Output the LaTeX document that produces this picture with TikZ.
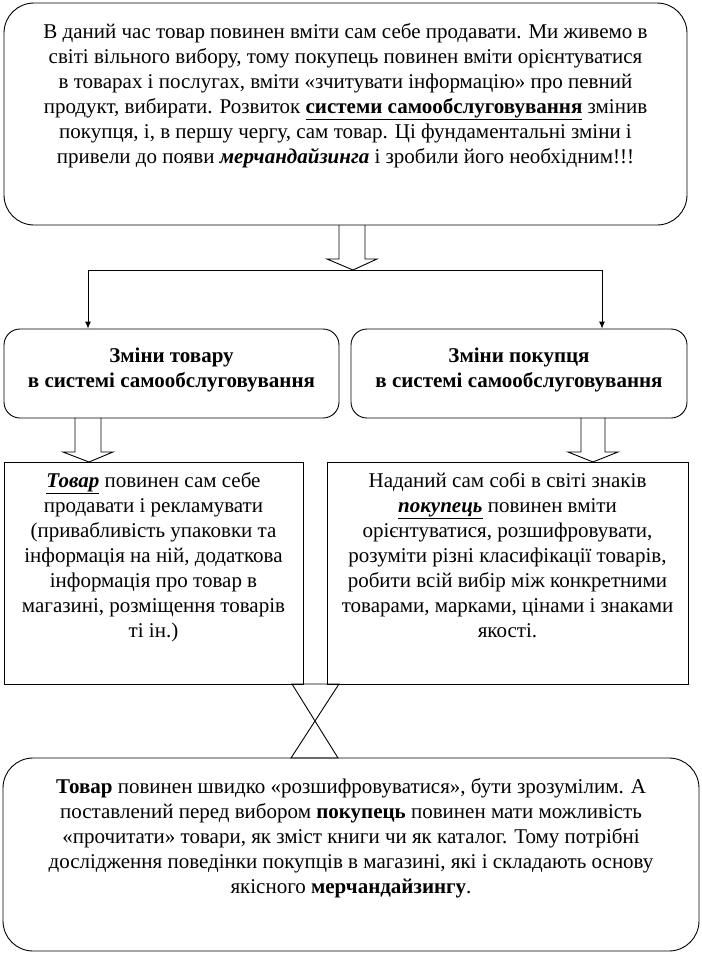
\documentclass[tikz,border=0pt]{standalone}
\usepackage{fontspec}
\setmainfont{LiberationSerif}[Extension=.ttf, UprightFont=*-Regular, BoldFont=*-Bold, ItalicFont=*-Italic, BoldItalicFont=*-BoldItalic]
\usetikzlibrary{arrows.meta,calc}
\begin{document}
\begin{tikzpicture}[x=1pt,y=-1pt,
  box/.style={draw=black, line width=0.9pt, inner sep=0pt},
  rbox/.style={box, rounded corners=30pt},
  sbox/.style={box, rounded corners=16pt},
  txt/.style={align=center, font=\fontsize{21}{25}\selectfont, inner sep=0pt, anchor=north},
  blockarrow/.style={draw=black, line width=0.9pt},
  link/.style={draw=black, line width=0.9pt, -{Latex[length=7pt,width=6pt]}},
  plain/.style={draw=black, line width=0.9pt}
]
\useasboundingbox (0,0) rectangle (702,954);

% boxes
\node[rbox, minimum width=683pt, minimum height=222pt] (top) at (345.5,114) {};
\node[sbox, minimum width=335pt, minimum height=89pt] (b2l) at (171.5,373.5) {};
\node[sbox, minimum width=336pt, minimum height=89pt] (b2r) at (519,373.5) {};
\node[box, minimum width=299pt, minimum height=222pt] (b3l) at (153.5,573) {};
\node[box, minimum width=361pt, minimum height=222pt] (b3r) at (507.5,573) {};
\node[rbox, minimum width=696pt, minimum height=193pt] (bot) at (351,854.5) {};

% texts
\node[txt] (t1) at (345.5,20.5) {\strut В даний час товар повинен вміти сам себе продавати. Ми живемо в\\
світі вільного вибору, тому покупець повинен вміти орієнтуватися\\
в товарах і послугах, вміти «зчитувати інформацію» про певний\\
продукт, вибирати. Розвиток \textbf{\underline{системи самообслуговування}} змінив\\
покупця, і, в першу чергу, сам товар. Ці фундаментальні зміни і\\
привели до появи \textbf{\textit{мерчандайзинга}} і зробили його необхідним!!!};

\node[txt, font=\fontsize{21}{25}\selectfont\bfseries] (t2l) at (171.5,344.5) {\strut Зміни товару\\в системі самообслуговування};
\node[txt, font=\fontsize{21}{25}\selectfont\bfseries] (t2r) at (519,344.5) {\strut Зміни покупця\\в системі самообслуговування};

\node[txt] (t3l) at (153.5,469.5) {\strut\textbf{\textit{\underline{Товар}}} повинен сам себе\\
продавати і рекламувати\\
(привабливість упаковки та\\
інформація на ній, додаткова\\
інформація про товар в\\
магазині, розміщення товарів\\
ті ін.)};

\node[txt] (t3r) at (507.5,469.5) {\strut Наданий сам собі в світі знаків\\
\textbf{\textit{\underline{покупець}}} повинен вміти\\
орієнтуватися, розшифровувати,\\
розуміти різні класифікації товарів,\\
робити всій вибір між конкретними\\
товарами, марками, цінами і знаками\\
якості.};

\node[txt] (t4) at (351,775.5) {\strut\textbf{Товар} повинен швидко «розшифровуватися», бути зрозумілим. А\\
поставлений перед вибором \textbf{покупець} повинен мати можливість\\
«прочитати» товари, як зміст книги чи як каталог. Тому потрібні\\
дослідження поведінки покупців в магазині, які і складають основу\\
якісного \textbf{мерчандайзингу}.};

% block arrow from top box
\coordinate (split) at (353,270);
\draw[blockarrow] (339,225) -- (339,259) -- (327,259) -- (split) -- (377,259) -- (365,259) -- (365,225);

% branch lines
\coordinate (hl) at (88,270);
\coordinate (hr) at (602,270);
\draw[plain] (hl) -- (hr);
\draw[link] (hl) -- (hl |- b2l.north);
\draw[link] (hr) -- (hr |- b2r.north);

% block arrows to third level
\draw[blockarrow] (75,418) -- (75,452) -- (63,452) -- (89,462) -- (113,452) -- (101,452) -- (101,418);
\draw[blockarrow] (581,418) -- (581,452) -- (568,452) -- (593,462) -- (618,452) -- (605,452) -- (605,418);

% hourglass between third level and bottom box
\draw[blockarrow] (292,684) -- (339,684) -- (291,758) -- (338,758) -- cycle;
\end{tikzpicture}
\end{document}
